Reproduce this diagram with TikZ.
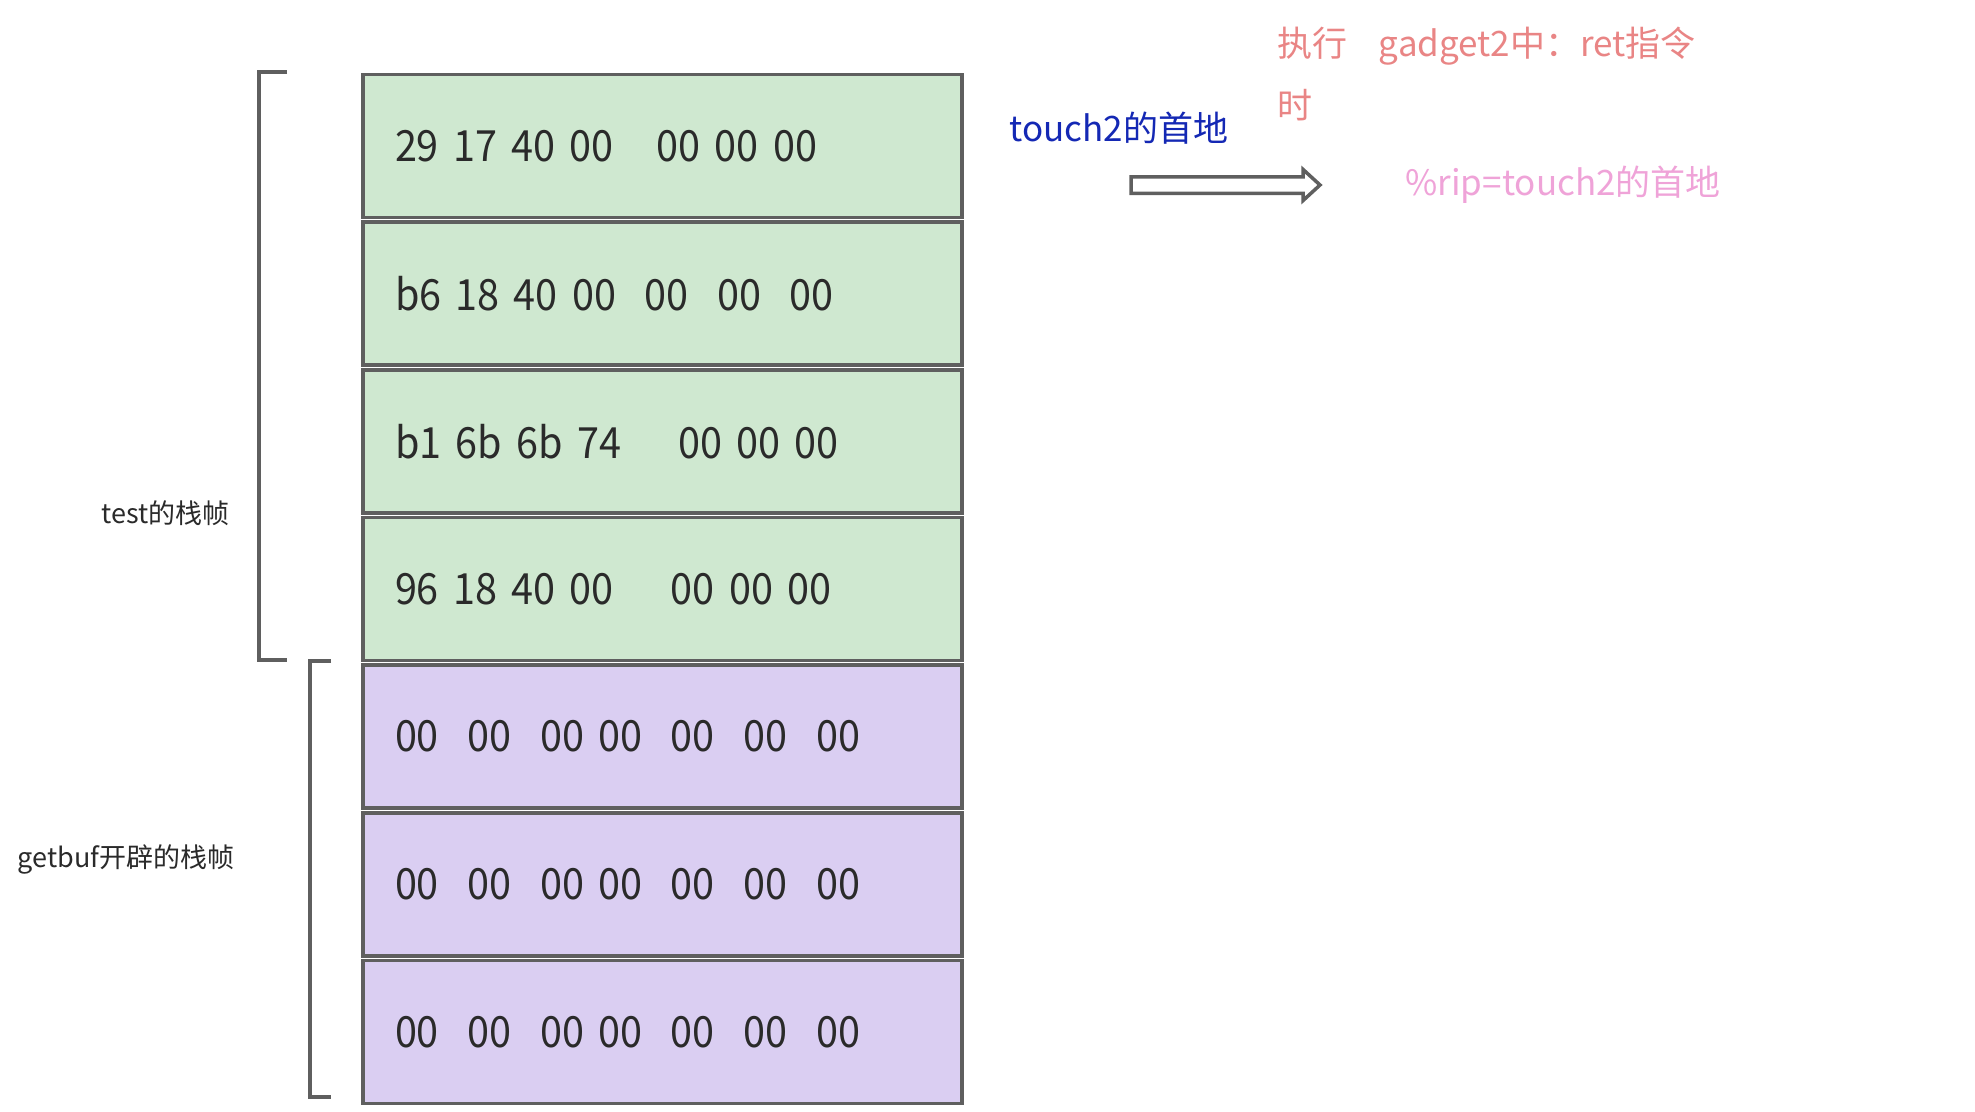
\documentclass[tikz,border=0pt]{standalone}
\usepackage{fontspec}
\setmainfont{Noto Sans CJK SC}
\newfontfamily\bytefont[FakeStretch=0.92]{Noto Sans CJK SC}
\usepackage{tikz}
\usetikzlibrary{shapes.arrows}
\definecolor{framegray}{HTML}{5F5F5F}
\definecolor{testgreen}{HTML}{CFE8D0}
\definecolor{bufpurple}{HTML}{DACEF2}
\definecolor{notered}{HTML}{E98585}
\definecolor{addrblue}{HTML}{1428B4}
\definecolor{rippink}{HTML}{EFA3D8}
\definecolor{bytegray}{HTML}{2A2A2A}

\begin{document}
\begin{tikzpicture}[x=1pt, y=-1pt,
  stackcell/.style={draw=framegray, line width=3.5, minimum width=599, minimum height=143, text width=535, inner xsep=32, align=left, font=\bytefont\fontsize{43}{50}\selectfont, text=bytegray},
  testcell/.style={stackcell, fill=testgreen},
  bufcell/.style={stackcell, fill=bufpurple},
  framelabel/.style={anchor=east, font=\fontsize{27}{32}\selectfont, text=bytegray},
  framebracket/.style={draw=framegray, line width=4}]
\useasboundingbox (0,0) rectangle (1975,1111);
\node[testcell] (retaddr) at (662.5,145.85) {29 17 40 00~~~00 00 00};
\node[testcell] (gadget2) at (662.5,293.55) {b6 18 40 00~~00~~00~~00};
\node[testcell] (cookie) at (662.5,441.25) {b1 6b 6b 74~~~~00 00 00};
\node[testcell] (gadget1) at (662.5,588.95) {96 18 40 00~~~~00 00 00};
\node[bufcell] (bufA) at (662.5,736.65) {00~~00~~00 00~~00~~00~~00};
\node[bufcell] (bufB) at (662.5,884.35) {00~~00~~00 00~~00~~00~~00};
\node[bufcell] (bufC) at (662.5,1032.05) {00~~00~~00 00~~00~~00~~00};
\draw[framebracket] (287,72)--(259,72)--(259,660)--(287,660);
\draw[framebracket] (331,661)--(310,661)--(310,1097)--(331,1097);
\node[framelabel] (testframe) at (233,513) {test的栈帧};
\node[framelabel] (bufframe) at (238,859) {getbuf开辟的栈帧};
\node[anchor=west, align=left, text=notered, font=\fontsize{35}{62}\selectfont] (gadgetnote) at (1274,74) {执行~~~~gadget2中：ret指令\\时};
\node[anchor=west, text=addrblue, font=\fontsize{35}{40}\selectfont] (touchaddr) at (1006,128) {touch2的首地};
\node[single arrow, draw=framegray, fill=white, line width=3.5, minimum height=189, inner sep=6.5, single arrow head extend=7.25, single arrow tip angle=85] (riparrow) at (1221,185) {};
\node[anchor=west, text=rippink, font=\fontsize{35}{40}\selectfont] (ripvalue) at (1402,185) {\%rip=touch2的首地};
\end{tikzpicture}
\end{document}
